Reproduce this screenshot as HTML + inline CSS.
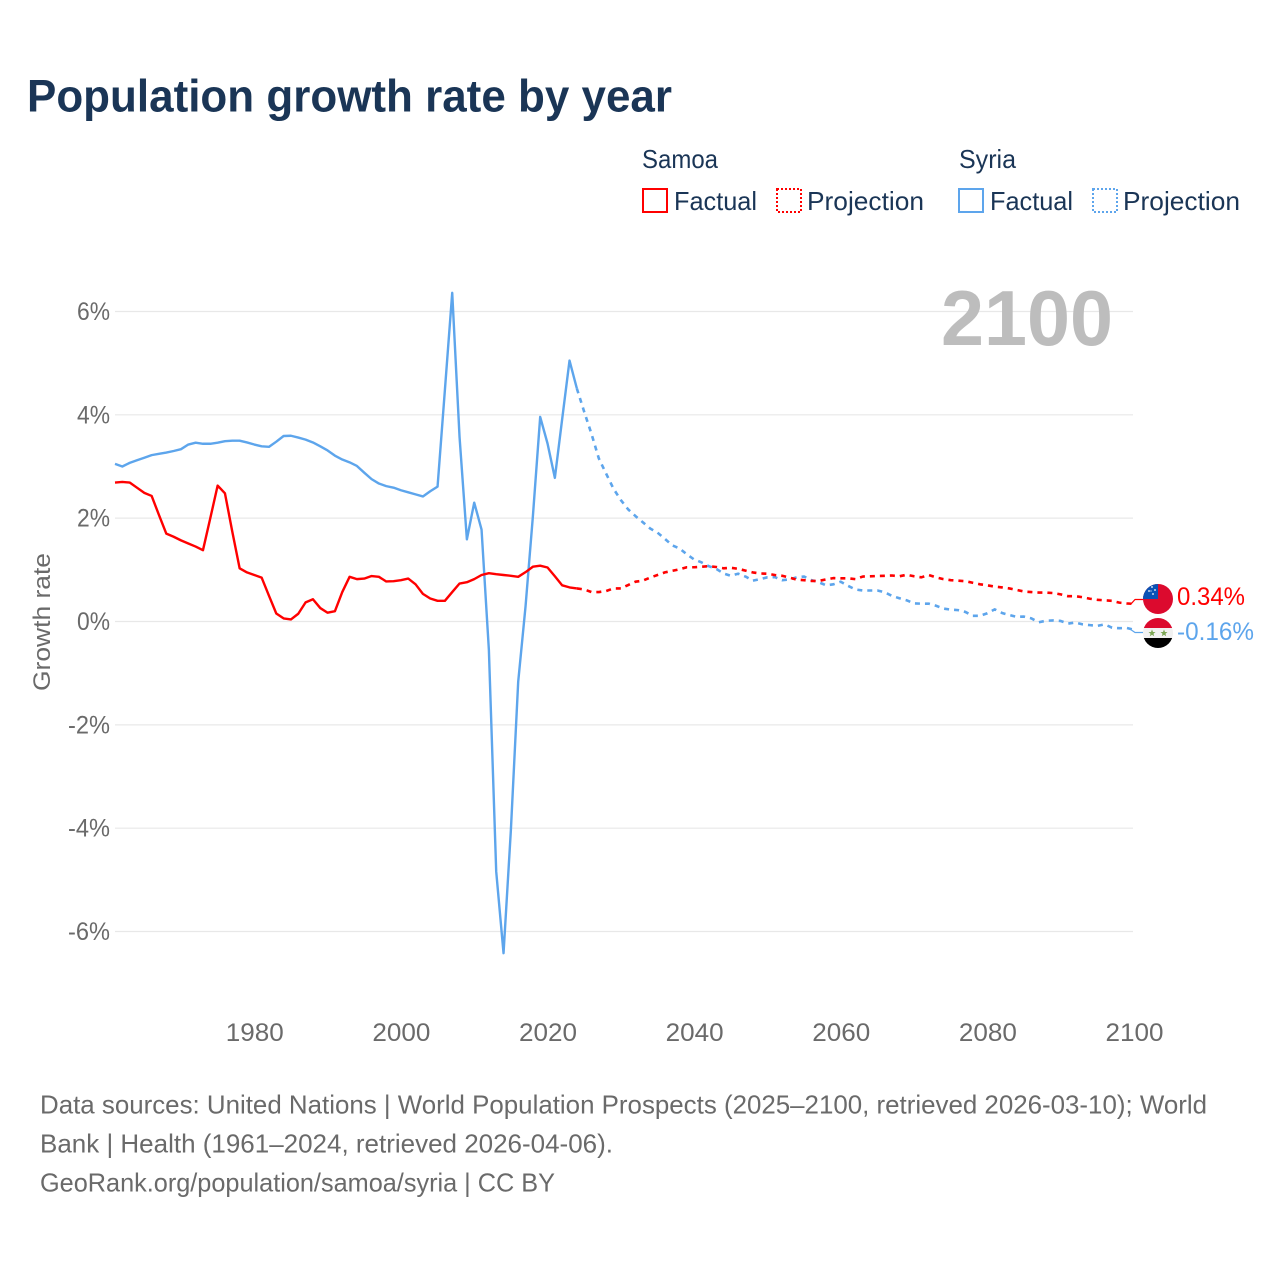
<!DOCTYPE html>
<html lang="en">
<head>
<meta charset="utf-8">
<title>Population growth rate by year</title>
<style>
html,body{margin:0;padding:0;background:#fff;width:1280px;height:1280px;overflow:hidden}
svg{display:block;font-family:"Liberation Sans",sans-serif}
</style>
</head>
<body>
<svg id="chart" width="1280" height="1280" viewBox="0 0 1280 1280" xmlns="http://www.w3.org/2000/svg">
  <defs>
    <clipPath id="flag-clip-samoa"><circle cx="1158" cy="599" r="15"/></clipPath>
    <clipPath id="flag-clip-syria"><circle cx="1158" cy="633" r="15"/></clipPath>
  </defs>
  <rect width="1280" height="1280" fill="#fff"/>
  <text x="27" y="111.5" font-size="45" font-weight="700" fill="#1a3556" textLength="645" lengthAdjust="spacingAndGlyphs">Population growth rate by year</text>

  <g font-size="26" fill="#1a3556">
    <text x="642" y="168" textLength="76" lengthAdjust="spacingAndGlyphs">Samoa</text>
    <text x="959" y="168" textLength="57" lengthAdjust="spacingAndGlyphs">Syria</text>
    <rect x="643" y="189" width="24" height="23" fill="none" stroke="#ff0000" stroke-width="2"/>
    <text x="674" y="210" textLength="83" lengthAdjust="spacingAndGlyphs">Factual</text>
    <rect x="777" y="189" width="24" height="23" fill="none" stroke="#ff0000" stroke-width="2" stroke-dasharray="2 2"/>
    <text x="807" y="210" textLength="117" lengthAdjust="spacingAndGlyphs">Projection</text>
    <rect x="959" y="189" width="24" height="23" fill="none" stroke="#5da5ec" stroke-width="2"/>
    <text x="990" y="210" textLength="83" lengthAdjust="spacingAndGlyphs">Factual</text>
    <rect x="1093" y="189" width="24" height="23" fill="none" stroke="#5da5ec" stroke-width="2" stroke-dasharray="2 2"/>
    <text x="1123" y="210" textLength="117" lengthAdjust="spacingAndGlyphs">Projection</text>
  </g>

  <g id="grid"></g>
  <text x="941" y="345" font-size="78" font-weight="700" fill="#bdbdbd" textLength="172" lengthAdjust="spacingAndGlyphs">2100</text>
  <g id="y-ticks" font-size="25" fill="#6a6a6a"></g>
  <g id="x-ticks" font-size="25" fill="#6a6a6a"></g>
  <text transform="translate(50,622) rotate(-90)" text-anchor="middle" font-size="24" fill="#6a6a6a" textLength="138" lengthAdjust="spacingAndGlyphs">Growth rate</text>
  <g id="series" fill="none" stroke-width="2.4" stroke-linejoin="round"></g>

  <g clip-path="url(#flag-clip-samoa)">
    <rect x="1143" y="584" width="30" height="30" fill="#dc0a2e"/>
    <rect x="1143" y="584" width="15" height="15" fill="#0a52b5"/>
    <circle cx="1152" cy="587" r="0.9" fill="#fff"/><circle cx="1155" cy="590" r="0.9" fill="#fff"/>
    <circle cx="1149" cy="591" r="0.9" fill="#fff"/><circle cx="1153" cy="594" r="0.9" fill="#fff"/>
    <circle cx="1151" cy="591" r="0.6" fill="#fff"/>
  </g>
  <g clip-path="url(#flag-clip-syria)">
    <rect x="1143" y="618" width="30" height="10" fill="#dc0a2e"/>
    <rect x="1143" y="628" width="30" height="10" fill="#f1f1f1"/>
    <rect x="1143" y="638" width="30" height="10" fill="#000"/>
    <polygon points="1152,629.5 1153,632 1155.5,632 1153.5,633.7 1154.2,636.3 1152,634.8 1149.8,636.3 1150.5,633.7 1148.5,632 1151,632" fill="#7ca654"/>
    <polygon points="1164,629.5 1165,632 1167.5,632 1165.5,633.7 1166.2,636.3 1164,634.8 1161.8,636.3 1162.5,633.7 1160.5,632 1163,632" fill="#7ca654"/>
  </g>
  <text id="end-label-samoa" x="1177" y="605" font-size="25" fill="#ff0000" textLength="68" lengthAdjust="spacingAndGlyphs"></text>
  <text id="end-label-syria" x="1177" y="640" font-size="25" fill="#5da5ec" textLength="77" lengthAdjust="spacingAndGlyphs"></text>

  <g font-size="26" fill="#6a6a6a">
    <text x="40" y="1113.5" textLength="1167" lengthAdjust="spacingAndGlyphs">Data sources: United Nations | World Population Prospects (2025–2100, retrieved 2026-03-10); World</text>
    <text x="40" y="1152.5" textLength="573" lengthAdjust="spacingAndGlyphs">Bank | Health (1961–2024, retrieved 2026-04-06).</text>
    <text x="40" y="1191.5" textLength="515" lengthAdjust="spacingAndGlyphs">GeoRank.org/population/samoa/syria | CC BY</text>
  </g>
</svg>
<script>
const yTickValues = [6, 4, 2, 0, -2, -4, -6];
const xTickYears = [1980, 2000, 2020, 2040, 2060, 2080, 2100];
const factualStartYear = 1961;
const projectionStartYear = 2024;

const samoaFactual = [2.69,2.70,2.69,2.59,2.49,2.43,2.06,1.70,1.64,1.57,1.51,1.45,1.38,2.00,2.63,2.48,1.74,1.03,0.95,0.90,
  0.85,0.50,0.155,0.06,0.04,0.15,0.37,0.43,0.26,0.17,0.20,0.57,0.865,0.82,0.83,0.88,0.865,0.775,0.78,0.80,
  0.83,0.72,0.535,0.445,0.40,0.40,0.57,0.735,0.76,0.82,0.90,0.935,0.915,0.90,0.885,0.865,0.955,1.06,1.08,1.045,
  0.875,0.70,0.66,0.64];
const samoaProjection = [0.64,0.62,0.57,0.57,0.59,0.64,0.64,0.706,0.77,0.79,0.85,0.90,0.95,0.98,1.01,1.05,1.05,1.06,1.07,1.055,
  1.03,1.04,1.02,0.985,0.95,0.93,0.925,0.90,0.885,0.85,0.81,0.80,0.785,0.785,0.815,0.84,0.835,0.835,0.82,0.87,
  0.875,0.88,0.885,0.89,0.875,0.905,0.875,0.855,0.90,0.855,0.82,0.80,0.79,0.78,0.75,0.72,0.70,0.675,0.66,0.64,
  0.61,0.58,0.57,0.56,0.56,0.55,0.525,0.49,0.49,0.47,0.44,0.42,0.41,0.40,0.365,0.35,0.34];
const syriaFactual = [3.05,3.00,3.07,3.12,3.17,3.22,3.245,3.27,3.30,3.335,3.425,3.46,3.44,3.44,3.46,3.49,3.50,3.50,3.465,3.425,
  3.39,3.38,3.48,3.59,3.595,3.56,3.52,3.465,3.39,3.31,3.21,3.135,3.08,3.01,2.88,2.755,2.67,2.62,2.59,2.54,
  2.50,2.46,2.42,2.52,2.61,4.48,6.36,3.57,1.59,2.30,1.78,-0.55,-4.84,-6.42,-4.04,-1.165,0.29,2.03,3.96,3.445,
  2.78,3.92,5.05,4.51];
const syriaProjection = [4.51,4.06,3.63,3.155,2.86,2.57,2.35,2.17,2.04,1.92,1.80,1.72,1.60,1.475,1.415,1.30,1.20,1.145,1.07,1.02,
  0.93,0.885,0.925,0.87,0.79,0.82,0.855,0.86,0.80,0.815,0.855,0.87,0.80,0.76,0.70,0.72,0.77,0.69,0.62,0.60,
  0.60,0.60,0.565,0.495,0.45,0.41,0.35,0.345,0.345,0.305,0.25,0.23,0.22,0.185,0.11,0.11,0.16,0.235,0.165,0.125,
  0.09,0.095,0.06,-0.015,0.015,0.02,0.01,-0.04,-0.02,-0.055,-0.07,-0.085,-0.055,-0.12,-0.13,-0.125,-0.16];

const SVGNS = 'http://www.w3.org/2000/svg';
function xScale(year) { return 115 + (year - 1961) * (1134 - 115) / 139; }
function yScale(value) { return 621.5 - value * 51.67; }
function make(tag, parent, attrs) {
  const el = document.createElementNS(SVGNS, tag);
  for (const k in attrs) el.setAttribute(k, attrs[k]);
  parent.appendChild(el);
  return el;
}
function linePath(values, startYear) {
  return values.map((v, i) => (i ? 'L' : 'M') + xScale(startYear + i).toFixed(2) + ' ' + yScale(v).toFixed(2)).join(' ');
}

const gridGroup = document.getElementById('grid');
const yGroup = document.getElementById('y-ticks');
const xGroup = document.getElementById('x-ticks');
const seriesGroup = document.getElementById('series');

yTickValues.forEach(function (v) {
  const line = make('line', gridGroup, { x1: 115, x2: 1133, y1: yScale(v), y2: yScale(v), stroke: '#e8e8e8', 'stroke-width': 1.2 });
  
  
  const label = v + '%';
  const t = make('text', yGroup, { x: 110, y: yScale(v) + 8.5, 'text-anchor': 'end', textLength: label.length > 2 ? 42 : 33, lengthAdjust: 'spacingAndGlyphs' });
  
  
  t.textContent = label;
});

xTickYears.forEach(function (yr) {
  const t = make('text', xGroup, { x: xScale(yr) + 0.5, y: 1041, 'text-anchor': 'middle', textLength: 58, lengthAdjust: 'spacingAndGlyphs' });
  
  
  t.textContent = yr;
});

function drawSeries(factual, projection, color, slug) {
  const f = make('path', seriesGroup, { d: linePath(factual, factualStartYear), stroke: color });
  
  
  const p = make('path', seriesGroup, { d: linePath(projection, projectionStartYear), stroke: color, 'stroke-width': 2.6, 'stroke-dasharray': '5 5' });
  
  
}
drawSeries(syriaFactual, syriaProjection, '#5da5ec', 'syria');
drawSeries(samoaFactual, samoaProjection, '#ff0000', 'samoa');

function drawConnector(values, color, labelY, slug) {
  const last = values[values.length - 1];
  const d = 'M' + (xScale(2100) - 3) + ' ' + yScale(last) + ' L' + (xScale(2100) + 1) + ' ' + labelY + ' L1143 ' + labelY;
  const c = make('path', seriesGroup, { d: d, stroke: color, 'stroke-width': 1.2 });
  
  
}
drawConnector(samoaProjection, '#ff0000', 599.5, 'samoa');
drawConnector(syriaProjection, '#5da5ec', 632.5, 'syria');

document.getElementById('end-label-samoa').textContent = samoaProjection[samoaProjection.length - 1].toFixed(2) + '%';
document.getElementById('end-label-syria').textContent = syriaProjection[syriaProjection.length - 1].toFixed(2) + '%';
</script>
</body>
</html>
